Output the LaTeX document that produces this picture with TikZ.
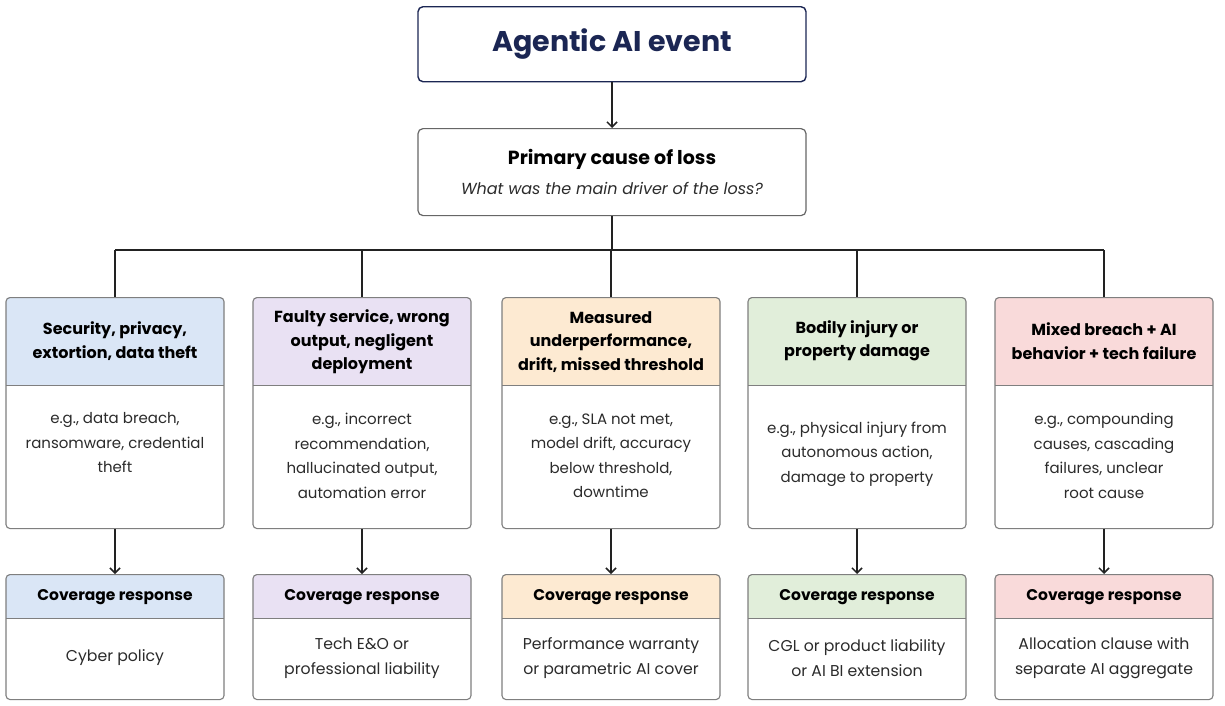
\documentclass[tikz,border=0pt]{standalone}
\usepackage{fontspec}
\setmainfont{Poppins}
\usetikzlibrary{arrows.meta}
\definecolor{navy}{HTML}{1B2653}
\definecolor{linec}{HTML}{222222}
\definecolor{boxline}{HTML}{7F7F7F}
\definecolor{textc}{HTML}{2B2B2B}
\definecolor{hblue}{HTML}{DAE6F6}
\definecolor{hpurple}{HTML}{E9E1F3}
\definecolor{horange}{HTML}{FDEAD2}
\definecolor{hgreen}{HTML}{E1EEDA}
\definecolor{hred}{HTML}{F9DADA}
\newcommand{\causecol}[8]{%
  \fill[#3, rounded corners=4pt] (#2-109,385) -- (#2-109,297) -- (#2+109,297) -- (#2+109,385);
  \node[box, minimum width=218pt, minimum height=231pt, anchor=north] (c#1) at (#2,297) {};
  \draw[divider] (#2-109,385) -- (#2+109,385);
  \node[hdr] (h#1) at (#2,#4) {#5};
  \node[bodyt] (b#1) at (#2,#6) {#7};
  \fill[#3, rounded corners=4pt] (#2-109,618) -- (#2-109,574) -- (#2+109,574) -- (#2+109,618);
  \node[box, minimum width=218pt, minimum height=125pt, anchor=north] (v#1) at (#2,574) {};
  \draw[divider] (#2-109,618) -- (#2+109,618);
  \node[hdr, font=\bfseries\fontsize{15.5}{20}\selectfont] (vh#1) at (#2,597) {Coverage response};
  \node[bodyt, font=\fontsize{15.7}{25}\selectfont] (vb#1) at (#2,658) {#8};
  \draw[arr] (c#1.south) -- (v#1.north);
  \draw[conn] (c#1.north |- bus) -- (c#1.north);
}
\begin{document}
\begin{tikzpicture}[x=1pt,y=-1pt,
  conn/.style={line width=1.5pt, draw=linec},
  arr/.style={conn, -{Straight Barb[length=5pt,width=10pt,line width=1.5pt]}},
  box/.style={draw=boxline, line width=1.1pt, rounded corners=4pt, inner sep=0pt},
  divider/.style={draw=boxline, line width=1pt},
  hdr/.style={font=\bfseries\fontsize{16}{23.5}\selectfont, align=center, text=black},
  bodyt/.style={font=\fontsize{15}{24.5}\selectfont, align=center, text=textc}]
\useasboundingbox (0,0) rectangle (1225,705);
\fill[white] (0,0) rectangle (1225,705);
\node[draw=navy, line width=1.4pt, rounded corners=5pt, minimum width=388pt, minimum height=75pt, anchor=north, inner sep=0pt] (top) at (612,6) {};
\node[font=\bfseries\fontsize{28.5}{30}\selectfont, text=navy] (toptxt) at (612,44) {Agentic AI event};
\node[draw=boxline!80!black, line width=1.2pt, rounded corners=5pt, minimum width=388pt, minimum height=87pt, anchor=north, inner sep=0pt] (prim) at (612,128) {};
\node[font=\bfseries\fontsize{19}{22}\selectfont, text=black] (primt) at (612,159) {Primary cause of loss};
\node[font=\itshape\fontsize{16}{19}\selectfont, text=textc] (prims) at (612,188) {What was the main driver of the loss?};
\draw[arr] (top.south) -- (prim.north);
\coordinate (bus) at (612,250);
\draw[conn] (prim.south) -- (bus);
\causecol{1}{115}{hblue}{341}{Security, privacy,\\extortion, data theft}{443}{e.g., data breach,\\ransomware, credential\\theft}{Cyber policy}
\causecol{2}{362}{hpurple}{342}{Faulty service, wrong\\output, negligent\\deployment}{456}{e.g., incorrect\\recommendation,\\hallucinated output,\\automation error}{Tech E\&O or\\professional liability}
\causecol{3}{611}{horange}{342}{Measured\\underperformance,\\drift, missed threshold}{456}{e.g., SLA not met,\\model drift, accuracy\\below threshold,\\downtime}{Performance warranty\\or parametric AI cover}
\causecol{4}{857}{hgreen}{341}{Bodily injury or\\property damage}{454}{e.g., physical injury from\\autonomous action,\\damage to property}{CGL or product liability\\or AI BI extension}
\causecol{5}{1104}{hred}{341}{Mixed breach + AI\\behavior + tech failure}{456}{e.g., compounding\\causes, cascading\\failures, unclear\\root cause}{Allocation clause with\\separate AI aggregate}
\draw[conn] (c1.north |- bus) -- (c5.north |- bus);
\end{tikzpicture}
\end{document}
